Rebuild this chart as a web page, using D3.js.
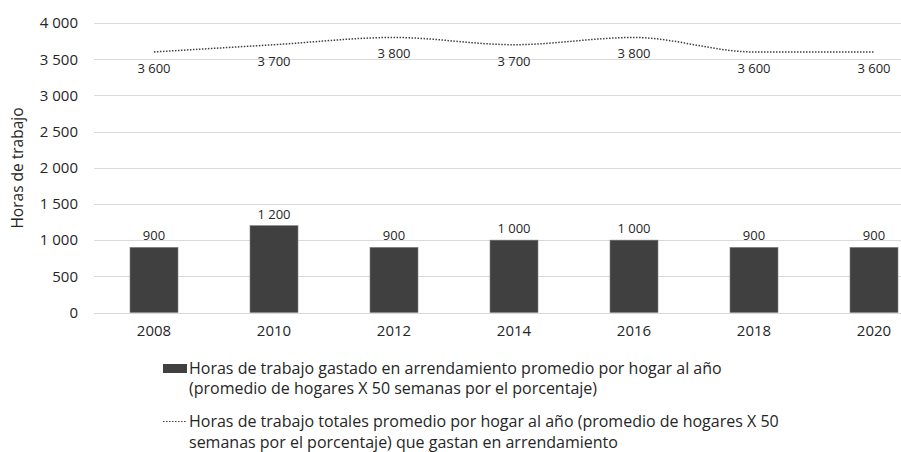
<!DOCTYPE html>
<html>
<head>
<meta charset="utf-8">
<script src="https://cdn.jsdelivr.net/npm/d3@7"></script>
<style>
  body { margin: 0; background: #fff; }
  svg { display: block; font-family: "Open Sans", sans-serif; }
</style>
</head>
<body>
<div id="chart"></div>
<script>
// data
var years = ['2008', '2010', '2012', '2014', '2016', '2018', '2020'];
var barValues = [900, 1200, 900, 1000, 1000, 900, 900];
var lineValues = [3600, 3700, 3800, 3700, 3800, 3600, 3600];
var yTicks = [0, 500, 1000, 1500, 2000, 2500, 3000, 3500, 4000];
var legendBar = ['Horas de trabajo gastado en arrendamiento promedio por hogar al año',
  '(promedio de hogares X 50 semanas por el porcentaje)'];
var legendLine = ['Horas de trabajo totales promedio por hogar al año (promedio de hogares X 50',
  'semanas por el porcentaje) que gastan en arrendamiento'];
var yTitle = 'Horas de trabajo';

var width = 901, height = 452;
var plot = { left: 94, right: 934, top: 23, bottom: 312.5 };
var textColor = '#262626';
var barColor = '#404040';

var svg = d3.select('#chart').append('svg')
  .attr('width', width)
  .attr('height', height);

var x = d3.scaleBand()
  .domain(years)
  .range([plot.left, plot.right])
  .paddingInner(0.6)
  .paddingOuter(0.3);

var y = d3.scaleLinear()
  .domain([0, 4000])
  .range([plot.bottom, plot.top]);

// thousands separated by a space, like the original
var fmt = d3.formatLocale({ decimal: ',', thousands: ' ', grouping: [3], currency: ['', ''] }).format(',d');

// gridlines
svg.append('g')
  .selectAll('line')
  .data(yTicks)
  .join('line')
  .attr('x1', plot.left)
  .attr('x2', width)
  .attr('y1', function(d) { return Math.round(y(d)) + 0.5; })
  .attr('y2', function(d) { return Math.round(y(d)) + 0.5; })
  .attr('stroke', '#d9d9d9')
  .attr('stroke-width', 1);

// y axis labels
var yAxis = d3.axisLeft(y).tickValues(yTicks).tickFormat(fmt).tickSize(0).tickPadding(0);
var gy = svg.append('g')
  .attr('transform', 'translate(78,0)')
  .call(yAxis);
gy.select('.domain').remove();
gy.selectAll('text')
  .attr('fill', textColor)
  .style('font-size', '15px')
  .style('font-family', '"Open Sans", sans-serif');

// x axis labels
var xAxis = d3.axisBottom(x).tickSize(0).tickPadding(0);
var gx = svg.append('g')
  .attr('transform', 'translate(0,' + 325 + ')')
  .call(xAxis);
gx.select('.domain').remove();
gx.selectAll('text')
  .attr('fill', textColor)
  .style('font-size', '15px')
  .style('font-family', '"Open Sans", sans-serif');

// y axis title
svg.append('text')
  .attr('transform', 'translate(23,168) rotate(-90)')
  .attr('text-anchor', 'middle')
  .attr('fill', textColor)
  .style('font-size', '15.5px')
  .text(yTitle);

// bars
svg.append('g')
  .selectAll('rect')
  .data(barValues)
  .join('rect')
  .attr('x', function(d, i) { return x(years[i]); })
  .attr('y', function(d) { return y(d); })
  .attr('width', x.bandwidth())
  .attr('height', function(d) { return y(0) - y(d); })
  .attr('fill', barColor)
  .attr('stroke', '#7f7f7f')
  .attr('stroke-width', 0.6);

// bar labels
svg.append('g')
  .selectAll('text')
  .data(barValues)
  .join('text')
  .attr('x', function(d, i) { return x(years[i]) + x.bandwidth() / 2; })
  .attr('y', function(d) { return y(d) - 7; })
  .attr('text-anchor', 'middle')
  .attr('fill', textColor)
  .style('font-size', '13px')
  .text(function(d) { return fmt(d); });

// dotted line, lightly smoothed
var line = d3.line()
  .x(function(d, i) { return x(years[i]) + x.bandwidth() / 2; })
  .y(function(d) { return y(d); })
  .curve(d3.curveMonotoneX);

svg.append('path')
  .datum(lineValues)
  .attr('d', line)
  .attr('fill', 'none')
  .attr('stroke', '#404040')
  .attr('stroke-width', 1.5)
  .attr('stroke-dasharray', '1.5,1.5');

// line labels, below the points
svg.append('g')
  .selectAll('text')
  .data(lineValues)
  .join('text')
  .attr('x', function(d, i) { return x(years[i]) + x.bandwidth() / 2; })
  .attr('y', function(d) { return y(d) + 21; })
  .attr('text-anchor', 'middle')
  .attr('fill', textColor)
  .style('font-size', '13px')
  .text(function(d) { return fmt(d); });

// legend
var legend = svg.append('g').attr('fill', textColor).style('font-size', '16px');

legend.append('rect')
  .attr('x', 163).attr('y', 364)
  .attr('width', 24).attr('height', 9)
  .attr('fill', barColor);

legend.selectAll('text.bar')
  .data(legendBar)
  .join('text')
  .attr('class', 'bar')
  .attr('x', 189)
  .attr('y', function(d, i) { return 374 + i * 20; })
  .text(function(d) { return d; });

legend.append('line')
  .attr('x1', 163).attr('x2', 187)
  .attr('y1', 421.5).attr('y2', 421.5)
  .attr('stroke', '#404040')
  .attr('stroke-width', 1.2)
  .attr('stroke-dasharray', '1.5,1.5');

legend.selectAll('text.line')
  .data(legendLine)
  .join('text')
  .attr('class', 'line')
  .attr('x', 189)
  .attr('y', function(d, i) { return 427 + i * 21; })
  .text(function(d) { return d; });
</script>
</body>
</html>
